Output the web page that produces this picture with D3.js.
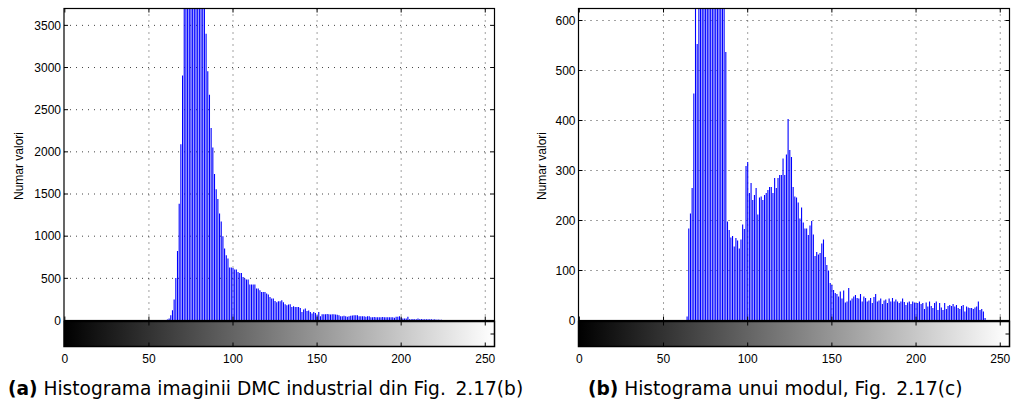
<!DOCTYPE html>
<html>
<head>
<meta charset="utf-8">
<script src="https://cdn.jsdelivr.net/npm/d3@7"></script>
<style>
  body { margin: 0; background: #fff; }
  svg { display: block; }
  .tick-label { font-family: "Liberation Sans", Arial, sans-serif; font-size: 12px; fill: #000; }
  .ylab { font-family: "Liberation Sans", Arial, sans-serif; font-size: 12px; fill: #000; }
  .caption { font-family: "DejaVu Sans", Verdana, sans-serif; font-size: 18.6px; fill: #000; }
</style>
</head>
<body>
<svg width="1011" height="401"></svg>
<script>

  // DATA

  var xTicks = [0, 50, 100, 150, 200, 250];
  var yTicksA = [0, 500, 1000, 1500, 2000, 2500, 3000, 3500];
  var yTicksB = [0, 100, 200, 300, 400, 500, 600];
  var yMaxA = 3700,
    yMaxB = 624;

  // histogram (a): counts for gray levels 61..225, zero elsewhere
  var startA = 61;
  var countsA = [
    12, 24, 63, 122, 249, 505, 825, 1386, 2089, 2906,
    3900, 4600, 5300, 5900, 6300, 6500, 6400, 6100, 5700, 5200,
    4700, 4300, 3900, 3400, 2957, 2678, 2282, 2053, 1737, 1556,
    1441, 1268, 1173, 999, 853, 774, 735, 628, 628, 623,
    604, 604, 576, 564, 564, 517, 497, 485, 485, 426,
    426, 426, 426, 379, 379, 359, 339, 339, 339, 320,
    308, 280, 261, 261, 230, 217, 229, 229, 241, 217,
    193, 181, 190, 193, 161, 170, 161, 161, 161, 149,
    102, 130, 142, 114, 120, 100, 83, 102, 90, 63,
    102, 51, 75, 75, 75, 78, 75, 72, 75, 75,
    70, 68, 63, 51, 51, 55, 51, 44, 51, 55,
    58, 63, 63, 63, 51, 51, 51, 51, 44, 51,
    51, 40, 40, 42, 40, 40, 38, 40, 42, 40,
    40, 38, 40, 40, 40, 32, 44, 44, 51, 32,
    24, 24, 24, 44, 16, 16, 18, 16, 16, 24,
    16, 18, 16, 16, 14, 16, 16, 14, 12, 14,
    10, 12, 10, 8, 6
  ];

  // histogram (b): counts for gray levels 64..241, zero elsewhere
  var startB = 64;
  var countsB = [
    8, 184, 214, 265, 454, 700, 553, 900, 1100, 1300,
    1450, 1550, 1600, 1550, 1450, 1350, 1250, 1100, 1000, 900,
    800, 720, 650, 537, 198, 181, 166, 169, 148, 165,
    160, 144, 162, 192, 183, 309, 317, 255, 275, 241,
    251, 265, 212, 246, 248, 241, 251, 255, 261, 267,
    267, 255, 285, 265, 285, 291, 291, 324, 291, 332,
    403, 341, 327, 267, 248, 246, 236, 204, 226, 196,
    184, 184, 171, 190, 199, 172, 129, 137, 132, 135,
    154, 162, 127, 111, 100, 75, 71, 61, 55, 53,
    48, 58, 44, 60, 36, 38, 65, 40, 44, 48,
    51, 45, 44, 53, 38, 48, 45, 38, 40, 45,
    35, 47, 53, 38, 40, 44, 33, 40, 42, 35,
    44, 38, 45, 38, 42, 38, 35, 38, 44, 37,
    31, 36, 38, 33, 38, 36, 35, 35, 38, 33,
    35, 23, 36, 28, 38, 29, 25, 35, 38, 21,
    35, 26, 21, 35, 23, 29, 31, 29, 33, 28,
    31, 25, 23, 29, 31, 18, 28, 26, 25, 25,
    23, 26, 28, 38, 21, 23, 18, 5
  ];

  var yLabel = "Numar valori";
  var captionA = ["(a)", " Histograma imaginii DMC industrial din Fig.\u2009 2.17(b)"];
  var captionB = ["(b)", " Histograma unui modul, Fig.\u2009 2.17(c)"];

  // SETUP

  var svg = d3.select("svg"),
    plotTop = 8.5,
    plotBottom = 320.5,
    barTop = 321.5,
    barBottom = 346.5;

  var defs = svg.append("defs");

  var grad = defs.append("linearGradient")
    .attr("id", "grayramp")
    .attr("x1", "0%").attr("x2", "100%")
    .attr("y1", "0%").attr("y2", "0%");
  grad.append("stop").attr("offset", "0%").attr("stop-color", "#000");
  grad.append("stop").attr("offset", "100%").attr("stop-color", "#fff");

  // DRAWING

  function drawPanel(p) {

    var x = d3.scaleLinear().domain([-0.5, 255.5]).range([p.left, p.right]),
      y = d3.scaleLinear().domain([0, p.yMax]).range([plotBottom, plotTop]);

    var data = p.counts.map(function (c, i) { return { bin: p.start + i, count: c }; });

    var g = svg.append("g");

    defs.append("clipPath")
      .attr("id", p.id + "-clip")
      .append("rect")
      .attr("x", p.left).attr("y", plotTop)
      .attr("width", p.right - p.left).attr("height", plotBottom - plotTop);

    // grid
    g.append("g")
      .selectAll("line")
      .data(xTicks.filter(function (d) { return d > 0; }))
      .enter().append("line")
      .attr("x1", function (d) { return x(d); })
      .attr("x2", function (d) { return x(d); })
      .attr("y1", plotTop).attr("y2", plotBottom)
      .attr("stroke", "#444").attr("stroke-width", 1)
      .attr("stroke-dasharray", "1,5");

    g.append("g")
      .selectAll("line")
      .data(p.yTicks.filter(function (d) { return d > 0; }))
      .enter().append("line")
      .attr("y1", function (d) { return y(d); })
      .attr("y2", function (d) { return y(d); })
      .attr("x1", p.left).attr("x2", p.right)
      .attr("stroke", "#444").attr("stroke-width", 1)
      .attr("stroke-dasharray", "1,5");

    // stems
    g.append("g")
      .attr("clip-path", "url(#" + p.id + "-clip)")
      .selectAll("line")
      .data(data)
      .enter().append("line")
      .attr("x1", function (d) { return x(d.bin); })
      .attr("x2", function (d) { return x(d.bin); })
      .attr("y1", y(0))
      .attr("y2", function (d) { return y(d.count); })
      .attr("stroke", "#0000ff")
      .attr("stroke-width", 1.1);

    // colour bar
    g.append("rect")
      .attr("x", x(-0.5)).attr("y", barTop)
      .attr("width", x(255.5) - x(-0.5)).attr("height", barBottom - barTop)
      .attr("fill", "url(#grayramp)");

    g.append("rect")
      .attr("x", x(-0.5)).attr("y", barTop)
      .attr("width", x(255.5) - x(-0.5)).attr("height", barBottom - barTop)
      .attr("fill", "none").attr("stroke", "#000").attr("stroke-width", 1.5);

    // plot box
    g.append("rect")
      .attr("x", p.left).attr("y", plotTop)
      .attr("width", p.right - p.left).attr("height", plotBottom - plotTop)
      .attr("fill", "none").attr("stroke", "#000").attr("stroke-width", 1.2);

    // ticks, inward on every side
    var tk = g.append("g").attr("stroke", "#000").attr("stroke-width", 1);
    xTicks.forEach(function (t) {
      var xx = x(t);
      tk.append("line").attr("x1", xx).attr("x2", xx).attr("y1", plotTop).attr("y2", plotTop + 4);
      tk.append("line").attr("x1", xx).attr("x2", xx).attr("y1", plotBottom).attr("y2", plotBottom - 4);
      tk.append("line").attr("x1", xx).attr("x2", xx).attr("y1", barTop).attr("y2", barTop + 4);
      tk.append("line").attr("x1", xx).attr("x2", xx).attr("y1", barBottom).attr("y2", barBottom - 4);
    });
    p.yTicks.forEach(function (t) {
      var yy = y(t);
      tk.append("line").attr("x1", p.left).attr("x2", p.left + 4).attr("y1", yy).attr("y2", yy);
      tk.append("line").attr("x1", p.right).attr("x2", p.right - 4).attr("y1", yy).attr("y2", yy);
    });
    var mid = (barTop + barBottom) / 2;
    tk.append("line").attr("x1", p.right).attr("x2", p.right - 4).attr("y1", mid).attr("y2", mid);

    // tick labels
    g.append("g")
      .selectAll("text")
      .data(p.yTicks)
      .enter().append("text")
      .attr("class", "tick-label")
      .attr("x", p.left - 3)
      .attr("y", function (d) { return y(d); })
      .attr("dy", "0.35em")
      .attr("text-anchor", "end")
      .text(function (d) { return d; });

    g.append("g")
      .selectAll("text")
      .data(xTicks)
      .enter().append("text")
      .attr("class", "tick-label")
      .attr("x", function (d) { return x(d); })
      .attr("y", 363)
      .attr("text-anchor", "middle")
      .text(function (d) { return d; });

    // y label
    g.append("text")
      .attr("class", "ylab")
      .attr("transform", "translate(" + p.labelX + ",166) rotate(-90)")
      .attr("text-anchor", "middle")
      .text(yLabel);

    // caption
    var cap = g.append("text")
      .attr("class", "caption")
      .attr("x", p.captionX)
      .attr("y", 395);
    cap.append("tspan").attr("font-weight", "bold").text(p.caption[0]);
    cap.append("tspan").text(p.caption[1]);
  }

  // START!

  drawPanel({ id: "a", left: 64, right: 494.5, start: startA, counts: countsA,
    yMax: yMaxA, yTicks: yTicksA, caption: captionA, captionX: 8, labelX: 23 });
  drawPanel({ id: "b", left: 578.5, right: 1009.5, start: startB, counts: countsB,
    yMax: yMaxB, yTicks: yTicksB, caption: captionB, captionX: 588, labelX: 546 });

</script>
</body>
</html>
